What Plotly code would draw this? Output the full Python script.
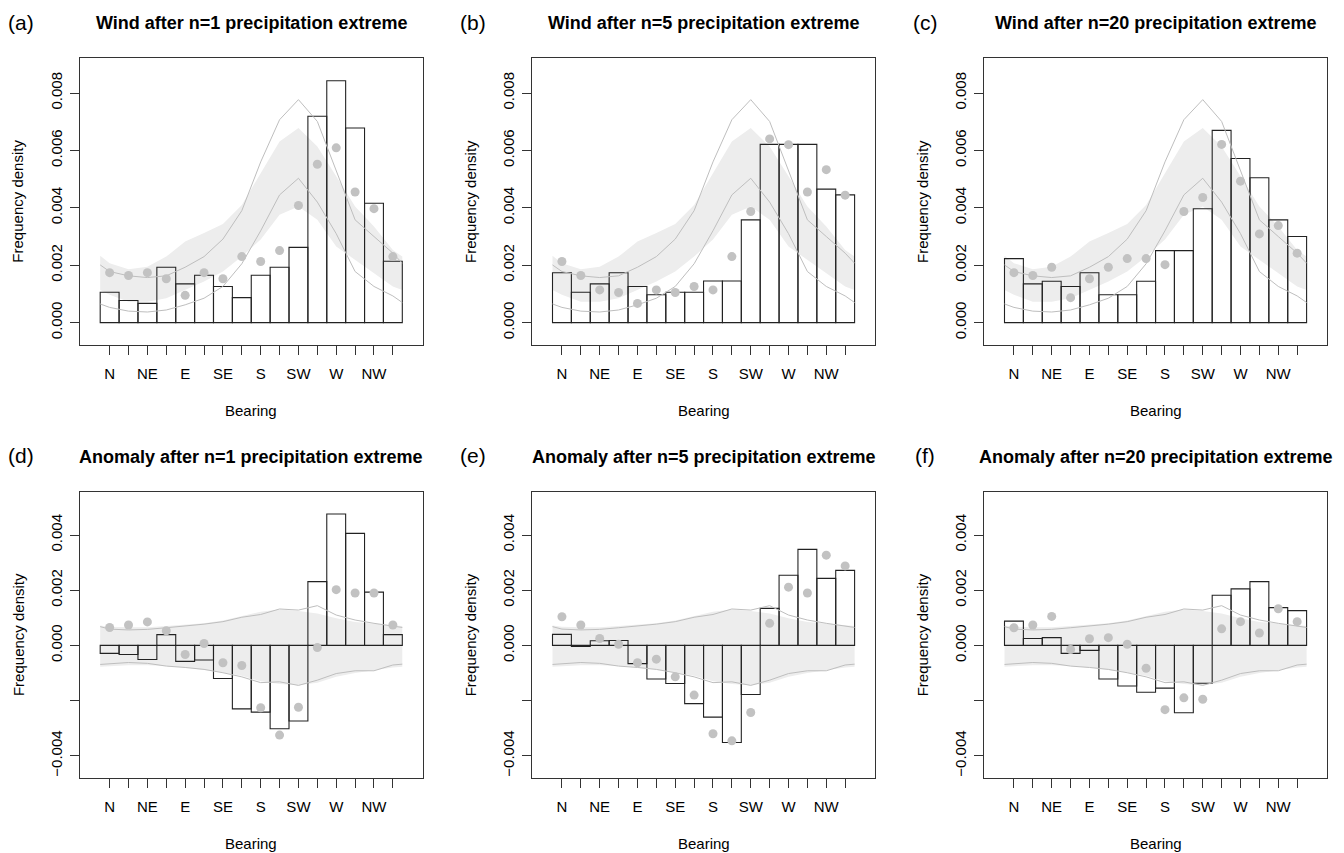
import plotly.graph_objects as go

# ---------------- data ----------------
BIN_CENTRES = list(range(1, 17))
CURVE_X = [0.5] + BIN_CENTRES + [16.5]
BEARING_LABELS = ["N", "", "NE", "", "E", "", "SE", "", "S", "", "SW", "", "W", "", "NW", ""]

WIND_TICKS = [0.0, 0.002, 0.004, 0.006, 0.008]
WIND_TICK_TEXT = ["0.000", "0.002", "0.004", "0.006", "0.008"]
ANOM_TICKS = [-0.004, -0.002, 0.0, 0.002, 0.004]
ANOM_TICK_TEXT = ["\u22120.004", "", "0.000", "0.002", "0.004"]

# wind frequency density after extremes (bars) and grey points
wind_n1_bars = [0.00106, 0.00077, 0.00067, 0.00193, 0.00135, 0.00165, 0.00126, 0.00087,
                0.00165, 0.00193, 0.00262, 0.00719, 0.00843, 0.00678, 0.00416, 0.00214]
wind_n1_points = [0.00174, 0.00164, 0.00174, 0.00153, 0.00095, 0.00174, 0.00153, 0.00230,
                  0.00213, 0.00251, 0.00408, 0.00552, 0.00609, 0.00455, 0.00397, 0.00230]
wind_n5_bars = [0.00174, 0.00106, 0.00135, 0.00174, 0.00126, 0.00097, 0.00106, 0.00106,
                0.00145, 0.00145, 0.00358, 0.00621, 0.00621, 0.00621, 0.00465, 0.00445]
wind_n5_points = [0.00213, 0.00164, 0.00114, 0.00105, 0.00067, 0.00114, 0.00105, 0.00126,
                  0.00114, 0.00230, 0.00387, 0.00640, 0.00620, 0.00455, 0.00533, 0.00444]
wind_n20_bars = [0.00223, 0.00135, 0.00144, 0.00126, 0.00174, 0.00097, 0.00097, 0.00144,
                 0.00251, 0.00251, 0.00397, 0.00670, 0.00572, 0.00505, 0.00358, 0.00300]
wind_n20_points = [0.00174, 0.00164, 0.00193, 0.00087, 0.00153, 0.00193, 0.00223, 0.00223,
                   0.00202, 0.00387, 0.00436, 0.00621, 0.00493, 0.00309, 0.00338, 0.00242]

# climatological envelope for wind (shaded band and grey lines)
wind_band_upper = [0.00233, 0.00207, 0.00186, 0.00195, 0.00230, 0.00283, 0.00312, 0.00344, 0.00410,
                   0.00520, 0.00631, 0.00678, 0.00614, 0.00510, 0.00405, 0.00335, 0.00253, 0.00230]
wind_band_lower = [0.00114, 0.00097, 0.00073, 0.00073, 0.00085, 0.00114, 0.00143, 0.00178, 0.00230,
                   0.00290, 0.00376, 0.00405, 0.00358, 0.00265, 0.00219, 0.00172, 0.00126, 0.00114]
wind_line_upper = [0.00201, 0.00178, 0.00163, 0.00157, 0.00163, 0.00193, 0.00230, 0.00291, 0.00390,
                   0.00560, 0.00707, 0.00777, 0.00701, 0.00530, 0.00358, 0.00300, 0.00242, 0.00207]
wind_line_lower = [0.00065, 0.00053, 0.00040, 0.00037, 0.00044, 0.00062, 0.00085, 0.00126, 0.00205,
                   0.00320, 0.00445, 0.00503, 0.00420, 0.00310, 0.00178, 0.00126, 0.00093, 0.00070]

# anomalies (bars) and grey points
anom_n1_bars = [-0.00029, -0.00033, -0.00051, 0.00039, -0.00058, -0.00053, -0.00120, -0.00230,
                -0.00242, -0.00302, -0.00274, 0.00231, 0.00476, 0.00406, 0.00193, 0.00039]
anom_n1_points = [0.00065, 0.00074, 0.00085, 0.00053, -0.00033, 0.00007, -0.00063, -0.00073,
                  -0.00226, -0.00325, -0.00224, -0.00008, 0.00202, 0.00190, 0.00190, 0.00074]
anom_n5_bars = [0.00040, -0.00004, 0.00017, 0.00018, -0.00066, -0.00122, -0.00138, -0.00211,
                -0.00260, -0.00352, -0.00178, 0.00134, 0.00254, 0.00348, 0.00243, 0.00272]
anom_n5_points = [0.00104, 0.00074, 0.00025, 0.00004, -0.00063, -0.00050, -0.00114, -0.00180,
                  -0.00320, -0.00346, -0.00243, 0.00080, 0.00211, 0.00190, 0.00327, 0.00288]
anom_n20_bars = [0.00088, 0.00025, 0.00028, -0.00029, -0.00018, -0.00122, -0.00147, -0.00170,
                 -0.00155, -0.00244, -0.00137, 0.00182, 0.00205, 0.00231, 0.00137, 0.00126]
anom_n20_points = [0.00064, 0.00074, 0.00105, -0.00015, 0.00024, 0.00028, 0.00004, -0.00083,
                   -0.00233, -0.00190, -0.00195, 0.00060, 0.00086, 0.00045, 0.00133, 0.00086]

# envelope for anomalies
anom_band_upper = [0.00072, 0.00068, 0.00066, 0.00066, 0.00070, 0.00074, 0.00080, 0.00090, 0.00105,
                   0.00122, 0.00130, 0.00125, 0.00116, 0.00098, 0.00085, 0.00078, 0.00072, 0.00070]
anom_band_lower = [-0.00077, -0.00075, -0.00072, -0.00072, -0.00075, -0.00080, -0.00088, -0.00098, -0.00110,
                   -0.00130, -0.00140, -0.00144, -0.00135, -0.00114, -0.00100, -0.00090, -0.00080, -0.00077]
anom_line_upper = [0.00068, 0.00059, 0.00056, 0.00058, 0.00064, 0.00070, 0.00077, 0.00086, 0.00102,
                   0.00112, 0.00132, 0.00128, 0.00144, 0.00110, 0.00092, 0.00080, 0.00071, 0.00065]
anom_line_lower = [-0.00069, -0.00066, -0.00062, -0.00065, -0.00075, -0.00080, -0.00087, -0.00099, -0.00114,
                   -0.00135, -0.00132, -0.00145, -0.00126, -0.00102, -0.00092, -0.00092, -0.00071, -0.00068]

PANELS = [
    ("(a)", "Wind after n=1 precipitation extreme", wind_n1_bars, wind_n1_points, "wind"),
    ("(b)", "Wind after n=5 precipitation extreme", wind_n5_bars, wind_n5_points, "wind"),
    ("(c)", "Wind after n=20 precipitation extreme", wind_n20_bars, wind_n20_points, "wind"),
    ("(d)", "Anomaly after n=1 precipitation extreme", anom_n1_bars, anom_n1_points, "anom"),
    ("(e)", "Anomaly after n=5 precipitation extreme", anom_n5_bars, anom_n5_points, "anom"),
    ("(f)", "Anomaly after n=20 precipitation extreme", anom_n20_bars, anom_n20_points, "anom"),
]

# ---------------- layout geometry (page pixels) ----------------
PAGE_W, PAGE_H = 1344, 853
OFF = 8                      # default body margin of the html page
W, H = PAGE_W - OFF, PAGE_H - OFF
FONT = "Liberation Sans, Arial, Helvetica, sans-serif"
BOX_LEFT = [80.0, 532.3, 984.3]
BOX_W = 342.5
ROW_TOP = [58.3, 491.7]
BOX_H = 286.7
X_RANGE = [-0.57, 17.57]
Y_RANGES = {"wind": [-0.00078, 0.00921], "anom": [-0.00482, 0.00557]}

BAND_COLOR = "#EDEDED"
LINE_GREY = "#BEBEBE"
POINT_GREY = "#C2C2C2"
INK = "#222222"


def px(x):
    return (x - OFF) / W


def py(y):
    return 1 - (y - OFF) / H


fig = go.Figure()
annotations = []

for i, (tag, title, bars, pts, kind) in enumerate(PANELS):
    row, col = divmod(i, 3)
    n = i + 1
    m = n + 6  # overlay axes, drawn above the band
    xa, ya = ("x", "y") if n == 1 else (f"x{n}", f"y{n}")
    xo, yo = f"x{m}", f"y{m}"
    if kind == "wind":
        bu, bl, lu, ll = wind_band_upper, wind_band_lower, wind_line_upper, wind_line_lower
        tv, tt = WIND_TICKS, WIND_TICK_TEXT
    else:
        bu, bl, lu, ll = anom_band_upper, anom_band_lower, anom_line_upper, anom_line_lower
        tv, tt = ANOM_TICKS, ANOM_TICK_TEXT

    fig.add_trace(go.Scatter(x=CURVE_X + CURVE_X[::-1], y=bu + bl[::-1], fill="toself",
                             fillcolor=BAND_COLOR, line=dict(width=0), mode="lines",
                             hoverinfo="skip", showlegend=False, xaxis=xa, yaxis=ya))
    fig.add_trace(go.Bar(x=BIN_CENTRES, y=bars, width=1.0,
                         marker=dict(color="rgba(0,0,0,0)", line=dict(color=INK, width=1.1)),
                         showlegend=False, xaxis=xo, yaxis=yo))
    for line_vals in (lu, ll):
        fig.add_trace(go.Scatter(x=CURVE_X, y=line_vals, mode="lines",
                                 line=dict(color=LINE_GREY, width=1),
                                 showlegend=False, xaxis=xo, yaxis=yo))
    fig.add_trace(go.Scatter(x=BIN_CENTRES, y=pts, mode="markers",
                             marker=dict(color=POINT_GREY, size=9, line=dict(width=0)),
                             showlegend=False, xaxis=xo, yaxis=yo))

    left = BOX_LEFT[col]
    top = ROW_TOP[row]
    x0, x1 = px(left), px(left + BOX_W)
    y0, y1 = py(top + BOX_H), py(top)

    axis_common = dict(showline=True, mirror=True, linecolor="#333333", linewidth=1,
                       ticks="outside", ticklen=9, tickwidth=1, tickcolor="#333333",
                       showgrid=False, zeroline=False,
                       tickfont=dict(family=FONT, size=15, color="black"))
    sfx = "" if n == 1 else str(n)
    fig.layout[f"xaxis{sfx}"] = dict(
        domain=[x0, x1], range=X_RANGE, anchor=ya, tickmode="array",
        tickvals=BIN_CENTRES, ticktext=BEARING_LABELS, tickangle=0,
        ticklabelstandoff=6, **axis_common)
    fig.layout[f"yaxis{sfx}"] = dict(
        domain=[y0, y1], range=Y_RANGES[kind], anchor=xa, tickmode="array",
        tickvals=tv, ticktext=tt, tickangle=-90, ticklabelstandoff=2, **axis_common)
    fig.layout[f"xaxis{m}"] = dict(domain=[x0, x1], range=X_RANGE, overlaying=xa,
                                   anchor=yo, visible=False, showgrid=False, zeroline=False)
    fig.layout[f"yaxis{m}"] = dict(domain=[y0, y1], range=Y_RANGES[kind], overlaying=ya,
                                   anchor=xo, visible=False, showgrid=False, zeroline=False)

    cx = px(left + BOX_W / 2)
    annotations.append(dict(text=f"<b>{title}</b>", x=cx, y=py(top - 35),
                            xref="paper", yref="paper", showarrow=False,
                            font=dict(family=FONT, size=18, color="black"),
                            xanchor="center", yanchor="middle"))
    annotations.append(dict(text=tag, x=px(left - 59), y=py(top - 36),
                            xref="paper", yref="paper", showarrow=False,
                            font=dict(family=FONT, size=21, color="black"),
                            xanchor="center", yanchor="middle"))
    annotations.append(dict(text="Bearing", x=cx, y=py(top + BOX_H + 65),
                            xref="paper", yref="paper", showarrow=False,
                            font=dict(family=FONT, size=15, color="black"),
                            xanchor="center", yanchor="middle"))
    annotations.append(dict(text="Frequency density", x=px(left - 62),
                            y=py(top + BOX_H / 2), textangle=-90,
                            xref="paper", yref="paper", showarrow=False,
                            font=dict(family=FONT, size=15, color="black"),
                            xanchor="center", yanchor="middle"))

fig.update_layout(width=W, height=H, margin=dict(l=0, r=0, t=0, b=0),
                  plot_bgcolor="white", paper_bgcolor="white",
                  barmode="overlay", annotations=annotations,
                  font=dict(family=FONT, size=15, color="black"))

fig.write_html("out.html")
